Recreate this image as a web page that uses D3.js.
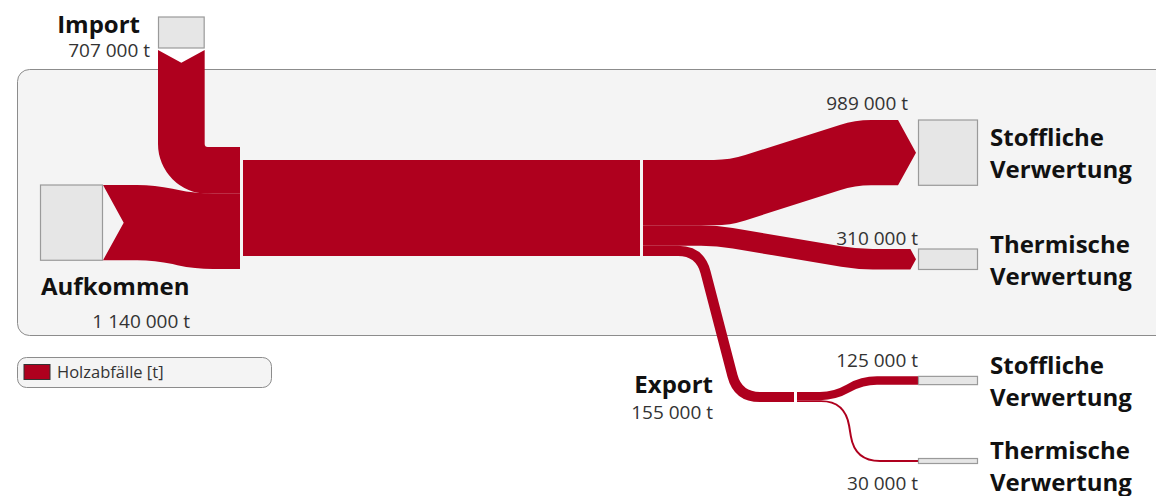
<!DOCTYPE html>
<html>
<head>
<meta charset="utf-8">
<script src="https://cdn.jsdelivr.net/npm/d3@7"></script>
<style>
  body { margin: 0; background: #fff; }
  text { font-family: "Open Sans", sans-serif; }
</style>
</head>
<body>
<svg id="chart" width="1156" height="496"></svg>
<script>
"use strict";

// data (tonnes)
var sources = ["Import", "Aufkommen"];
var sourceValues = [707000, 1140000];
var targets = ["Stoffliche Verwertung", "Thermische Verwertung", "Export"];
var targetValues = [989000, 310000, 155000];
var exportTargets = ["Stoffliche Verwertung", "Thermische Verwertung"];
var exportValues = [125000, 30000];
var legendLabels = ["Holzabfälle [t]"];

var RED = "#af001e", NODE = "#e6e6e6", NODE_STROKE = "#9a9a9a";

var locale = d3.formatLocale({decimal: ",", thousands: " ", grouping: [3], currency: ["", " €"]});
var fmt = function(v) { return locale.format(",")(v) + " t"; };

// flow thickness in px
var w = d3.scaleLinear().domain([0, d3.sum(targetValues)]).range([0, 96]);

var svg = d3.select("#chart");

// background panel
svg.append("rect").attr("x", 17.5).attr("y", 69.5).attr("width", 1160).attr("height", 266)
  .attr("rx", 12).attr("fill", "#f4f4f4").attr("stroke", "#8c8c8c");

// rounded polyline through pts (r = corner radius)
function rounded(pts, r, move) {
    var s = (move ? "M" : "L") + pts[0][0] + "," + pts[0][1];
    for (var i = 1; i < pts.length - 1; i++) {
        var p = pts[i], a = pts[i - 1], b = pts[i + 1];
        var da = Math.hypot(p[0] - a[0], p[1] - a[1]), db = Math.hypot(b[0] - p[0], b[1] - p[1]);
        var ra = Math.min(r, da / 2), rb = Math.min(r, db / 2);
        var p1 = [p[0] + (a[0] - p[0]) * ra / da, p[1] + (a[1] - p[1]) * ra / da];
        var p2 = [p[0] + (b[0] - p[0]) * rb / db, p[1] + (b[1] - p[1]) * rb / db];
        s += "L" + p1[0] + "," + p1[1] + "Q" + p[0] + "," + p[1] + " " + p2[0] + "," + p2[1];
    }
    var l = pts[pts.length - 1];
    return s + "L" + l[0] + "," + l[1];
}

// band whose top edge follows pts, thickness t (vertical)
function band(pts, t, r, opts) {
    opts = opts || {};
    var bottom = pts.map(function(p) { return [p[0], p[1] + t]; }).reverse();
    var last = pts[pts.length - 1], first = pts[0];
    var d = rounded(pts, r, true);
    if (opts.arrow) d += "L" + (last[0] + 0.55 * t / 2) + "," + (last[1] + t / 2);
    d += rounded(bottom, r, false);
    if (opts.notch) d += "L" + (first[0] + 0.55 * t / 2) + "," + (first[1] + t / 2);
    return d + "Z";
}

var g = svg.append("g");

// Import: comes down, bends right into the central block
var wi = w(sourceValues[0]);
var ix = 158, iy = 50, ri = 3, endY = 147;
g.append("path").attr("fill", RED).attr("d",
    "M" + ix + "," + iy +
    "L" + (ix + wi / 2) + "," + (iy + 0.55 * wi / 2) +
    "L" + (ix + wi) + "," + iy +
    "L" + (ix + wi) + "," + (endY - ri) +
    "A" + ri + "," + ri + " 0 0 0 " + (ix + wi + ri) + "," + endY +
    "L240," + endY + "L240," + (endY + wi) +
    "L" + (ix + wi + ri) + "," + (endY + wi) +
    "A" + (ri + wi) + "," + (ri + wi) + " 0 0 1 " + ix + "," + (endY - ri) + "Z");

// Aufkommen
var wa = w(sourceValues[1]);
g.append("path").attr("fill", RED)
  .attr("d", band([[103, 185], [155, 185], [195, endY + wi], [240, endY + wi]], wa, 18, {notch: true}));

// central block
var total = w(d3.sum(targetValues)), cy = 160;
g.append("rect").attr("x", 243).attr("y", cy).attr("width", 397).attr("height", total).attr("fill", RED);

// outgoing flows
var y0 = cy, yy = [];
targetValues.forEach(function(v) { yy.push(y0); y0 += w(v); });

var ws = w(targetValues[0]), wt = w(targetValues[1]), we = w(targetValues[2]);
g.append("path").attr("fill", RED)
  .attr("d", band([[643, yy[0]], [730, yy[0]], [855, 120], [916 - 0.55 * ws / 2, 120]], ws, 16, {arrow: true}));
g.append("path").attr("fill", RED)
  .attr("d", band([[643, yy[1]], [717, yy[1]], [857, 249], [916 - 0.55 * wt / 2, 249]], wt, 16, {arrow: true}));

// export line
var ec = yy[2] + we / 2, ey = 397;
g.append("path").attr("fill", "none").attr("stroke", RED).attr("stroke-width", we)
  .attr("d", rounded([[643, ec], [700, ec], [738, ey], [794, ey]], 22, true));

// export split
var ws2 = w(exportValues[0]), wt2 = w(exportValues[1]);
var etop = ey - we / 2;
g.append("path").attr("fill", "none").attr("stroke", RED).attr("stroke-width", ws2)
  .attr("d", rounded([[797, etop + ws2 / 2], [835, etop + ws2 / 2], [862, 380.5], [918, 380.5]], 15, true));
g.append("path").attr("fill", "none").attr("stroke", RED).attr("stroke-width", wt2)
  .attr("d", rounded([[797, etop + ws2 + wt2 / 2], [845, etop + ws2 + wt2 / 2], [855, 461], [918, 461]], 25, true));

// nodes
var nodes = [
    {x: ix, y: 17, w: wi, h: 31},
    {x: 40, y: 185, w: 63, h: wa},
    {x: 918, y: 120, w: 60, h: ws},
    {x: 918, y: 249, w: 60, h: wt},
    {x: 918, y: 380.5 - ws2 / 2, w: 60, h: ws2},
    {x: 918, y: 461 - 2.5, w: 60, h: Math.max(wt2, 5)}
];
svg.selectAll(".node").data(nodes).enter().append("rect")
  .attr("class", "node")
  .attr("x", function(d) { return d.x + 0.5; })
  .attr("y", function(d) { return d.y; })
  .attr("width", function(d) { return d.w - 1; })
  .attr("height", function(d) { return d.h; })
  .attr("fill", NODE).attr("stroke", NODE_STROKE).attr("stroke-width", 1.2);

// labels
function label(txt, x, y, anchor, bold) {
    svg.append("text").attr("x", x).attr("y", y).attr("text-anchor", anchor)
      .attr("font-size", bold ? 24 : 19)
      .attr("font-weight", bold ? 700 : 400)
      .attr("fill", bold ? "#111" : "#333")
      .text(txt);
}
label(sources[0], 140, 33, "end", true);
label(fmt(sourceValues[0]), 150, 57, "end");
label(sources[1], 41, 295, "start", true);
label(fmt(sourceValues[1]), 190, 328, "end");
label(fmt(targetValues[0]), 908, 110, "end");
label(fmt(targetValues[1]), 918, 245, "end");
label(targets[2], 713, 393, "end", true);
label(fmt(targetValues[2]), 713, 419, "end");
label(fmt(exportValues[0]), 918, 367, "end");
label(fmt(exportValues[1]), 918, 490, "end");

var rightLabels = [
    {name: targets[0], y: 146}, {name: targets[1], y: 253},
    {name: exportTargets[0], y: 374}, {name: exportTargets[1], y: 459}
];
rightLabels.forEach(function(d) {
    var parts = d.name.split(" ");
    label(parts[0], 990, d.y, "start", true);
    label(parts[1], 990, d.y + 32, "start", true);
});

// legend
var lg = svg.append("g");
lg.append("rect").attr("x", 17.5).attr("y", 357.5).attr("width", 254).attr("height", 30)
  .attr("rx", 9).attr("fill", "#f4f4f4").attr("stroke", "#8c8c8c");
lg.selectAll(".sw").data(legendLabels).enter().append("rect")
  .attr("x", 24).attr("y", 364.5).attr("width", 26).attr("height", 15)
  .attr("fill", RED).attr("stroke", "#333");
lg.selectAll(".lt").data(legendLabels).enter().append("text")
  .attr("x", 57).attr("y", 378).attr("font-size", 16.5).attr("fill", "#333")
  .text(function(d) { return d; });
</script>
</body>
</html>
